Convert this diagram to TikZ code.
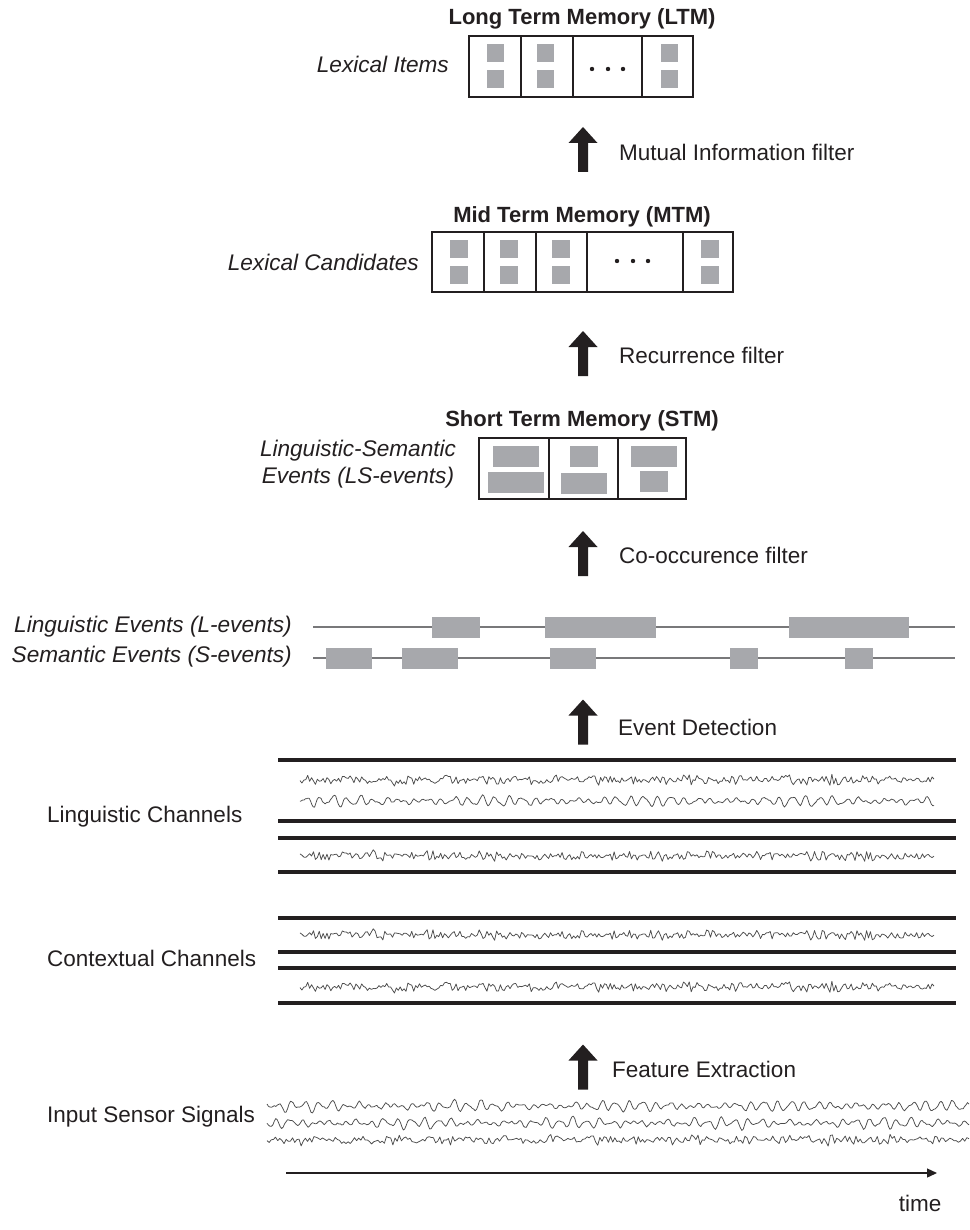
\documentclass[tikz,border=0pt]{standalone}
\usepackage{fontspec}
\setmainfont{Liberation Sans}
\usetikzlibrary{arrows.meta}
\definecolor{ink}{RGB}{35,31,32}
\definecolor{evgray}{RGB}{167,168,172}
\definecolor{evline}{RGB}{120,120,122}

% periodic helper: sin with period #2 (in pt) and phase #3 (deg), safe for large x
\pgfmathdeclarefunction{wv}{3}{\pgfmathparse{sin(360*frac(#1/#2)+#3)}}

\tikzset{
  lbl/.style={font=\fontsize{22.5}{28}\selectfont, inner sep=0pt, text=ink},
  ilbl/.style={font=\fontsize{22.6}{27}\selectfont\itshape, inner sep=0pt, text=ink},
  ttl/.style={font=\fontsize{22}{27}\selectfont\bfseries, inner sep=0pt, text=ink},
  cell/.style={draw=ink, line width=1.2pt, inner sep=0pt, outer sep=0pt},
  sq/.style={fill=evgray, inner sep=0pt, outer sep=0pt},
  evbox/.style={fill=evgray, inner sep=0pt, outer sep=0pt, minimum height=21pt},
  evrule/.style={draw=evline, line width=1.4pt},
  chline/.style={draw=ink, line width=3.3pt},
  wave/.style={draw=black!70, line width=0.75pt, line join=round},
  flowarrow/.pic={\fill[ink] (-5,22.5) -- (-5,-6.5) -- (-14.5,-6.5) -- (0,-22.5)
                   -- (14.5,-6.5) -- (5,-6.5) -- (5,22.5) -- cycle;},
}

% jagged signal: y, seed, x-from, x-to
\newcommand\noisewave[4]{%
  \pgfmathsetseed{#2}%
  \draw[wave] plot[domain=#3:#4, samples=330]
    (\x,{#1+(1.8+3.0*abs(wv(\x,97,#2*37)))*rand+5.5*rand*rand*rand});
}
% oscillating signal: y, phase, x-from, x-to
\newcommand\smoothwave[4]{%
  \pgfmathsetseed{#2}%
  \draw[wave] plot[domain=#3:#4, samples=480]
    (\x,{#1+4.4*wv(\x,13.5,#2)*(0.6+0.4*wv(\x,157,#2*2))
          +1.6*wv(\x,8.7,#2*3)+1.2*wv(\x,31,#2)+0.6*rand});
}

\begin{document}
\begin{tikzpicture}[x=1pt,y=-1pt]
\useasboundingbox (0,0) rectangle (969,1230);

% ---------- Long Term Memory ----------
\node[ttl] (ltmt) at (582,19) {Long Term Memory (LTM)};
\node[ilbl, anchor=east] (ltml) at (449,64) {Lexical Items};
\node[cell, minimum width=52pt, minimum height=61pt] (ltm1) at (495,66.5) {};
\node[cell, minimum width=52pt, minimum height=61pt] (ltm2) at (547,66.5) {};
\node[cell, minimum width=69pt, minimum height=61pt] (ltm3) at (607.5,66.5) {};
\node[cell, minimum width=51pt, minimum height=61pt] (ltm4) at (667.5,66.5) {};
\foreach \c/\n in {495/1,545/2,669/4}{
  \node[sq, minimum width=17pt, minimum height=18pt] (ltm\n a) at (\c,53) {};
  \node[sq, minimum width=17pt, minimum height=18pt] (ltm\n b) at (\c,79) {};
}
\foreach \d in {592,608,623} \fill[ink] (\d,69) circle (2.2pt);

\pic at (583,149.5) {flowarrow};
\node[lbl, anchor=west] (mif) at (619,152) {Mutual Information filter};

% ---------- Mid Term Memory ----------
\node[ttl] (mtmt) at (582,217) {Mid Term Memory (MTM)};
\node[ilbl, anchor=east] (mtml) at (419,262) {Lexical Candidates};
\node[cell, minimum width=52pt, minimum height=60pt] (mtm1) at (458,262) {};
\node[cell, minimum width=52pt, minimum height=60pt] (mtm2) at (510,262) {};
\node[cell, minimum width=51pt, minimum height=60pt] (mtm3) at (561.5,262) {};
\node[cell, minimum width=96pt, minimum height=60pt] (mtm4) at (635,262) {};
\node[cell, minimum width=50pt, minimum height=60pt] (mtm5) at (708,262) {};
\foreach \c/\n in {459/1,509/2,561/3,710/5}{
  \node[sq, minimum width=18pt, minimum height=18pt] (mtm\n a) at (\c,249) {};
  \node[sq, minimum width=18pt, minimum height=18pt] (mtm\n b) at (\c,275) {};
}
\foreach \d in {617,633,648} \fill[ink] (\d,261) circle (2.2pt);

\pic at (583,353.5) {flowarrow};
\node[lbl, anchor=west] (rcf) at (619,355) {Recurrence filter};

% ---------- Short Term Memory ----------
\node[ttl] (stmt) at (582,421) {Short Term Memory (STM)};
\node[ilbl, align=center, anchor=center] (stml) at (358,464)
  {Linguistic-Semantic\\Events (LS-events)};
\node[cell, minimum width=70pt, minimum height=61pt] (stm1) at (514,468.5) {};
\node[cell, minimum width=69pt, minimum height=61pt] (stm2) at (583.5,468.5) {};
\node[cell, minimum width=68pt, minimum height=61pt] (stm3) at (652,468.5) {};
\node[sq, minimum width=46pt, minimum height=21pt] (stm1a) at (516,456.5) {};
\node[sq, minimum width=56pt, minimum height=21pt] (stm1b) at (516,482.5) {};
\node[sq, minimum width=28pt, minimum height=21pt] (stm2a) at (584,456.5) {};
\node[sq, minimum width=46pt, minimum height=21pt] (stm2b) at (584,483.5) {};
\node[sq, minimum width=46pt, minimum height=21pt] (stm3a) at (654,456.5) {};
\node[sq, minimum width=28pt, minimum height=21pt] (stm3b) at (654,481.5) {};

\pic at (583,553.5) {flowarrow};
\node[lbl, anchor=west] (cof) at (619,555) {Co-occurence filter};

% ---------- event streams ----------
\node[ilbl, anchor=east] (levl) at (292,627) {Linguistic Events (L-events)};
\node[ilbl, anchor=east] (sevl) at (292,657) {Semantic Events (S-events)};
\draw[evrule] (313,627) -- (955,627);
\draw[evrule] (313,658) -- (955,658);
\node[evbox, minimum width=48pt]  (le1) at (456,627) {};
\node[evbox, minimum width=111pt] (le2) at (600.5,627) {};
\node[evbox, minimum width=120pt] (le3) at (849,627) {};
\node[evbox, minimum width=46pt]  (se1) at (349,658) {};
\node[evbox, minimum width=56pt]  (se2) at (430,658) {};
\node[evbox, minimum width=46pt]  (se3) at (573,658) {};
\node[evbox, minimum width=28pt]  (se4) at (744,658) {};
\node[evbox, minimum width=28pt]  (se5) at (859,658) {};

\pic at (583,722) {flowarrow};
\node[lbl, anchor=west] (evd) at (618,727) {Event Detection};

% ---------- linguistic channels ----------
\node[lbl, anchor=west] (lch) at (47,817) {Linguistic Channels};
\draw[chline] (278,760) -- (956,760);
\noisewave{780}{11}{300}{934}
\smoothwave{801}{20}{300}{934}
\draw[chline] (278,821) -- (956,821);
\draw[chline] (278,838) -- (956,838);
\noisewave{856}{23}{300}{934}
\draw[chline] (278,872) -- (956,872);

% ---------- contextual channels ----------
\node[lbl, anchor=west] (cch) at (47,958) {Contextual Channels};
\draw[chline] (278,918) -- (956,918);
\noisewave{935}{23}{300}{934}
\draw[chline] (278,952) -- (956,952);
\draw[chline] (278,968) -- (956,968);
\noisewave{987}{11}{300}{934}
\draw[chline] (278,1003) -- (956,1003);

\pic at (583,1067) {flowarrow};
\node[lbl, anchor=west] (fex) at (612,1069) {Feature Extraction};

% ---------- raw sensor input ----------
\node[lbl, anchor=west] (iss) at (47,1117) {Input Sensor Signals};
\smoothwave{1106}{50}{267}{969}
\smoothwave{1123}{110}{267}{969}
\noisewave{1140}{11}{267}{969}

% ---------- time axis ----------
\coordinate (t0) at (286,1173);
\coordinate (t1) at (937,1173);
\draw[ink, line width=1.3pt, -{Triangle[length=10pt,width=9pt]}] (t0) -- (t1);
\node[lbl] (time) at (920,1203) {time};
\end{tikzpicture}
\end{document}
